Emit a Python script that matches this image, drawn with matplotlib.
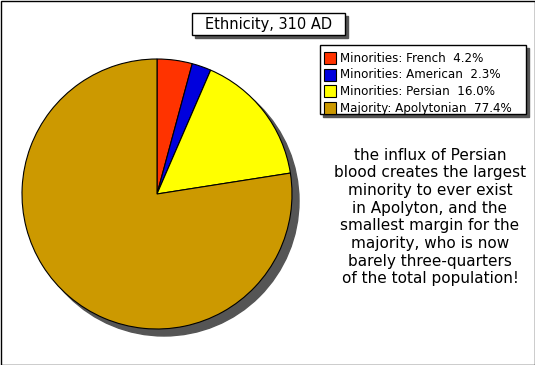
import matplotlib.pyplot as plt
from matplotlib.patches import Circle, Rectangle

# data
groups = ['Minorities: French', 'Minorities: American', 'Minorities: Persian', 'Majority: Apolytonian']
shares = [4.2, 2.3, 16.0, 77.4]
colors = ['#FF3300', '#0000DD', '#FFFF00', '#CC9900']
title = 'Ethnicity, 310 AD'
note = ('the influx of Persian\nblood creates the largest\nminority to ever exist\n'
        'in Apolyton, and the\nsmallest margin for the\nmajority, who is now\n'
        'barely three-quarters\nof the total population!')

W, H = 535, 365
fig = plt.figure(figsize=(W / 100, H / 100), dpi=100)
ax = fig.add_axes([0, 0, 1, 1])

# outer border
ax.add_patch(Rectangle((0.5, 0.5), W - 1, H - 1, fill=False, ec='black', lw=1))

# pie with shadow
cx, cy, r = 157, H - 194, 135
ax.add_patch(Circle((cx + 7, cy - 7), r, color='#555555', zorder=1))
wedges, _ = ax.pie(shares, colors=colors, startangle=90, counterclock=False,
                   center=(cx, cy), radius=r, frame=True,
                   wedgeprops=dict(edgecolor='black', linewidth=0.8))
for w in wedges:
    w.set_zorder(2)
ax.set_xlim(0, W)
ax.set_ylim(0, H)
ax.set_aspect('equal')
ax.axis('off')

# title box
tx0, ty0, tw, th = 192, H - 35, 153, 22
ax.add_patch(Rectangle((tx0 + 3, ty0 - 3), tw, th, color='#555555', zorder=3))
ax.add_patch(Rectangle((tx0, ty0), tw, th, fc='white', ec='black', lw=1, zorder=4))
ax.text(tx0 + tw / 2, ty0 + th / 2, title, ha='center', va='center',
        fontsize=10.5, family='DejaVu Sans', zorder=5)

# legend
lx0, ly0, lw_, lh = 320, H - 114, 206, 69
ax.add_patch(Rectangle((lx0 + 3, ly0 - 3), lw_, lh, color='#555555', zorder=3))
ax.add_patch(Rectangle((lx0, ly0), lw_, lh, fc='white', ec='black', lw=1, zorder=4))
for i, (g, s, c) in enumerate(zip(groups, shares, colors)):
    yy = H - 58 - i * 16.7
    ax.add_patch(Rectangle((324, yy - 6), 12, 12, fc=c, ec='black', lw=0.8, zorder=5))
    ax.text(340, yy, f'{g}  {s:.1f}%', ha='left', va='center',
            fontsize=8.6, family='DejaVu Sans', zorder=5)

# annotation
ax.text(430, H - 217, note, ha='center', va='center', fontsize=11,
        family='DejaVu Sans', linespacing=1.22)

fig.savefig('out.png', dpi=100)
